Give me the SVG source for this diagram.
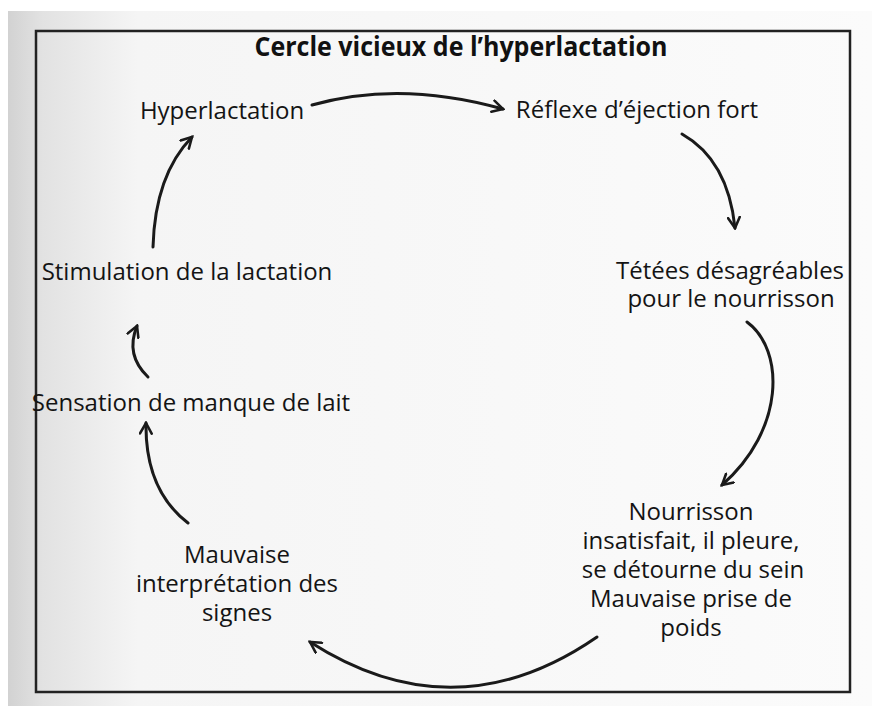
<svg xmlns="http://www.w3.org/2000/svg" width="872" height="706" viewBox="0 0 872 706">
<defs>
<linearGradient id="pg" x1="0" y1="0" x2="1" y2="0">
<stop offset="0" stop-color="#d2d2d2"/>
<stop offset="0.04" stop-color="#e2e2e2"/>
<stop offset="0.15" stop-color="#f5f5f5"/>
<stop offset="1" stop-color="#fbfbfb"/>
</linearGradient>
<marker id="ah" viewBox="0 0 12 12" refX="10" refY="6" markerWidth="14" markerHeight="14" markerUnits="userSpaceOnUse" orient="auto">
<path d="M1,1 L10,6 L1,11" fill="none" stroke="#1a1a1a" stroke-width="2.2" stroke-linecap="round" stroke-linejoin="miter"/>
</marker>
<style>
.t{font-family:"Open Sans","Noto Sans","Liberation Sans",sans-serif;font-size:24px;fill:#141414;text-anchor:middle}
.ttl{font-family:"Open Sans","Noto Sans","Liberation Sans",sans-serif;font-size:26px;font-weight:bold;fill:#111;text-anchor:middle}
.c{fill:none;stroke:#1a1a1a;stroke-width:3;stroke-linecap:round;marker-end:url(#ah)}
</style>
</defs>
<rect width="872" height="706" fill="#ffffff"/>
<rect x="8" y="11" width="864" height="695" fill="url(#pg)"/>
<rect x="36" y="31" width="814" height="661" fill="none" stroke="#222" stroke-width="2.5"/>
<text class="ttl" x="461" y="56" textLength="413" lengthAdjust="spacingAndGlyphs">Cercle vicieux de l’hyperlactation</text>
<g id="n1"><text class="t" x="222" y="119">Hyperlactation</text></g>
<g id="n2"><text class="t" x="637" y="118">Réflexe d’éjection fort</text></g>
<g id="n3"><text class="t" x="730" y="279">Tétées désagréables</text><text class="t" x="731" y="307">pour le nourrisson</text></g>
<g id="n4"><text class="t" x="691" y="520">Nourrisson</text><text class="t" x="691" y="549">insatisfait, il pleure,</text><text class="t" x="693" y="578">se détourne du sein</text><text class="t" x="691" y="607">Mauvaise prise de</text><text class="t" x="691" y="636">poids</text></g>
<g id="n5"><text class="t" x="237" y="563">Mauvaise</text><text class="t" x="237" y="592">interprétation des</text><text class="t" x="237" y="621">signes</text></g>
<g id="n6"><text class="t" x="191" y="411">Sensation de manque de lait</text></g>
<g id="n7"><text class="t" x="187" y="280">Stimulation de la lactation</text></g>
<g id="connectors">
<path class="c" d="M312,105 Q400,80 503,109"/>
<path class="c" d="M682,134 Q728,160 735,228"/>
<path class="c" d="M747,322 C785,350 785,430 722,485"/>
<path class="c" d="M597,637 Q455,735 310,642"/>
<path class="c" d="M188,523 Q145,490 146,423"/>
<path class="c" d="M148,377 Q125,355 137,326"/>
<path class="c" d="M153,247 Q155,175 192,137"/>
</g>
</svg>
